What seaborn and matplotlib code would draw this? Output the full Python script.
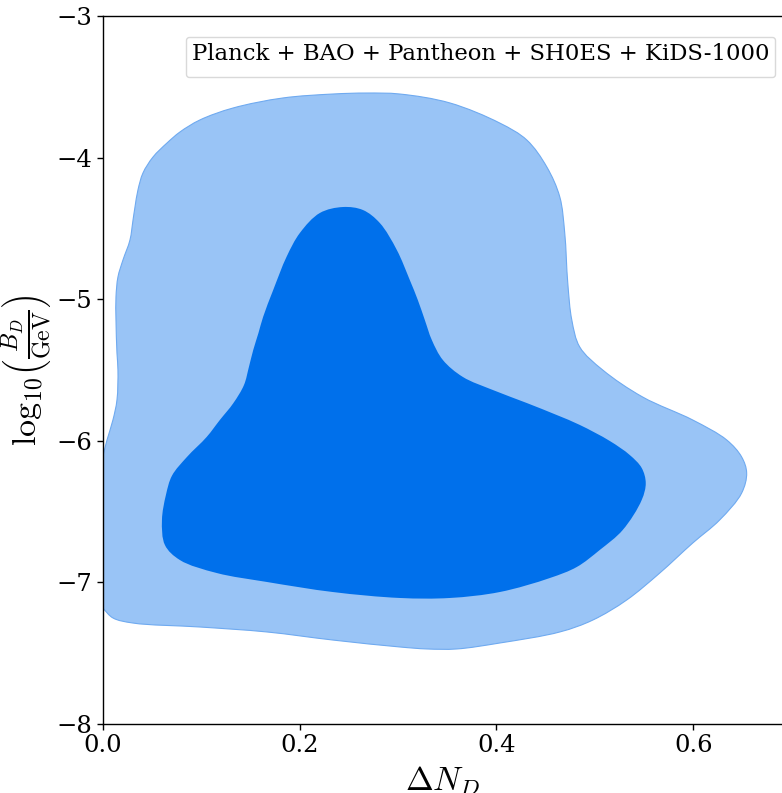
import numpy as np
import matplotlib
matplotlib.use("Agg")
import matplotlib.pyplot as plt
from matplotlib.path import Path
from matplotlib.patches import PathPatch
import seaborn as sns

# Posterior contours in the (Delta N_D, log10 B_D) plane
outer_x = [0.000, 0.0044, 0.0104, 0.0145, 0.0155, 0.0145, 0.0135, 0.0135, 0.0155, 0.0206,
           0.0277, 0.0308, 0.0328, 0.0358, 0.0409, 0.0511, 0.0653, 0.0785, 0.0988, 0.1323,
           0.1830, 0.2338, 0.2683, 0.3018, 0.3526, 0.4033, 0.4308, 0.4511, 0.4643, 0.4693,
           0.4724, 0.4765, 0.4846, 0.5079, 0.5485, 0.5993, 0.6338, 0.6490, 0.6541, 0.6490,
           0.6267, 0.5993, 0.5658, 0.5323, 0.4978, 0.4643, 0.4033, 0.3597, 0.3292, 0.3018,
           0.2338, 0.1668, 0.0988, 0.0308, 0.0104, 0.000]
outer_y = [-6.114, -5.994, -5.853, -5.712, -5.500, -5.380, -5.147, -4.984, -4.843, -4.723,
           -4.582, -4.441, -4.349, -4.229, -4.109, -3.996, -3.897, -3.819, -3.734, -3.650,
           -3.579, -3.551, -3.544, -3.551, -3.614, -3.756, -3.876, -4.066, -4.278, -4.532,
           -4.886, -5.147, -5.338, -5.500, -5.691, -5.853, -5.994, -6.114, -6.227, -6.369,
           -6.559, -6.722, -6.934, -7.124, -7.266, -7.350, -7.428, -7.470, -7.470, -7.456,
           -7.407, -7.350, -7.315, -7.287, -7.251, -7.181]

inner_x = [0.2440, 0.2643, 0.2815, 0.2988, 0.3119, 0.3201, 0.3272, 0.3343, 0.3455, 0.3658,
           0.3962, 0.4307, 0.4612, 0.4846, 0.5150, 0.5353, 0.5475, 0.5516, 0.5475, 0.5282,
           0.5049, 0.4816, 0.4542, 0.4033, 0.3526, 0.3018, 0.2338, 0.1668, 0.1160, 0.0784,
           0.0632, 0.0602, 0.0642, 0.0704, 0.0856, 0.1056, 0.1190, 0.1326, 0.1435, 0.1485,
           0.1529, 0.1582, 0.1630, 0.1732, 0.1868, 0.2003, 0.2206]
inner_y = [-4.349, -4.370, -4.462, -4.653, -4.864, -5.006, -5.147, -5.288, -5.429, -5.549,
           -5.641, -5.733, -5.818, -5.888, -6.001, -6.100, -6.192, -6.298, -6.418, -6.630,
           -6.771, -6.891, -6.969, -7.068, -7.110, -7.110, -7.068, -6.997, -6.934, -6.842,
           -6.736, -6.559, -6.383, -6.246, -6.114, -5.973, -5.853, -5.735, -5.606, -5.479,
           -5.359, -5.239, -5.124, -4.935, -4.700, -4.532, -4.391]

x_ticks = [0.0, 0.2, 0.4, 0.6]
y_ticks = [-8, -7, -6, -5, -4, -3]
dataset_label = "Planck + BAO + Pantheon + SH0ES + KiDS-1000"

X_LIM = (0, 0.69)
Y_LIM = (-8, -3)


def smooth_path(xs, ys, closed, close_straight=False, aspect=(985.0, 141.6)):
    """Centripetal Catmull-Rom curve through the vertices, as cubic Bezier segments.
    Distances are measured in screen-like units given by `aspect`."""
    P = np.column_stack([xs, ys])
    S = P * np.asarray(aspect)
    n = len(P)
    verts = [P[0]]
    codes = [Path.MOVETO]
    segs = range(n) if closed else range(n - 1)
    for i in segs:
        i0 = (i - 1) % n if (closed or i > 0) else i
        i1 = i
        i2 = (i + 1) % n
        i3 = (i + 2) % n if (closed or i + 2 < n) else i + 1
        s0, s1, s2, s3 = S[i0], S[i1], S[i2], S[i3]
        if i0 == i1:
            s0 = 2 * s1 - s2
        if i3 == i2:
            s3 = 2 * s2 - s1
        d1 = max(np.linalg.norm(s1 - s0), 1e-9) ** 0.5
        d2 = max(np.linalg.norm(s2 - s1), 1e-9) ** 0.5
        d3 = max(np.linalg.norm(s3 - s2), 1e-9) ** 0.5
        c1 = (d1**2 * s2 - d2**2 * s0 + (2 * d1**2 + 3 * d1 * d2 + d2**2) * s1) / (3 * d1 * (d1 + d2))
        c2 = (d3**2 * s1 - d2**2 * s3 + (2 * d3**2 + 3 * d3 * d2 + d2**2) * s2) / (3 * d3 * (d3 + d2))
        verts += [c1 / aspect, c2 / aspect, P[i2]]
        codes += [Path.CURVE4] * 3
    if closed or close_straight:
        verts.append(P[0])
        codes.append(Path.CLOSEPOLY)
    return Path(np.asarray(verts), codes)


sns.set_style("ticks")
plt.rcParams["font.family"] = ["DejaVu Serif"]
plt.rcParams["mathtext.fontset"] = "cm"
plt.rcParams["axes.edgecolor"] = "black"
plt.rcParams["text.color"] = "black"
plt.rcParams["axes.labelcolor"] = "black"
plt.rcParams["xtick.color"] = "black"
plt.rcParams["ytick.color"] = "black"

fig = plt.figure(figsize=(7.82, 7.93), dpi=100)
ax = fig.add_axes([102.7 / 782, 69 / 793, 1 - 102.7 / 782, 708 / 793])

c_outer = "#99C4F6"
c_inner = "#0070EB"

ax.add_patch(PathPatch(smooth_path(outer_x, outer_y, closed=False, close_straight=True),
                       facecolor=c_outer, lw=0, zorder=1))
ax.add_patch(PathPatch(smooth_path(outer_x, outer_y, closed=False),
                       fill=False, edgecolor="#6FAAF0", lw=0.8, zorder=1.2))
ax.add_patch(PathPatch(smooth_path(inner_x, inner_y, closed=True),
                       facecolor=c_inner, lw=0, zorder=1.5))

ax.set_xlim(*X_LIM)
ax.set_ylim(*Y_LIM)
ax.set_xticks(x_ticks)
ax.set_yticks(y_ticks)
ax.set_xticklabels([f"{t:.1f}" for t in x_ticks])
ax.set_yticklabels([f"\u2212{abs(t)}" for t in y_ticks])
ax.tick_params(labelsize=17.5, length=4, width=1)
ax.spines["right"].set_visible(False)
for s in ["left", "bottom", "top"]:
    ax.spines[s].set_linewidth(1)

ax.set_xlabel(r"$\Delta N_D$", fontsize=24, labelpad=5)
ax.set_ylabel(r"$\log_{10}\!\left(\frac{B_D}{\mathrm{GeV}}\right)$", fontsize=24.5, labelpad=2)

leg = ax.legend(handles=[], title=dataset_label, loc="upper right",
                bbox_to_anchor=((775 - 102.7) / 679.3, (724 - 37) / 708),
                borderaxespad=0, title_fontsize=16.4, framealpha=0.8, fancybox=True,
                borderpad=0.4)
leg.get_frame().set_edgecolor("#d0d0d0")

fig.savefig("out.png", dpi=100)
